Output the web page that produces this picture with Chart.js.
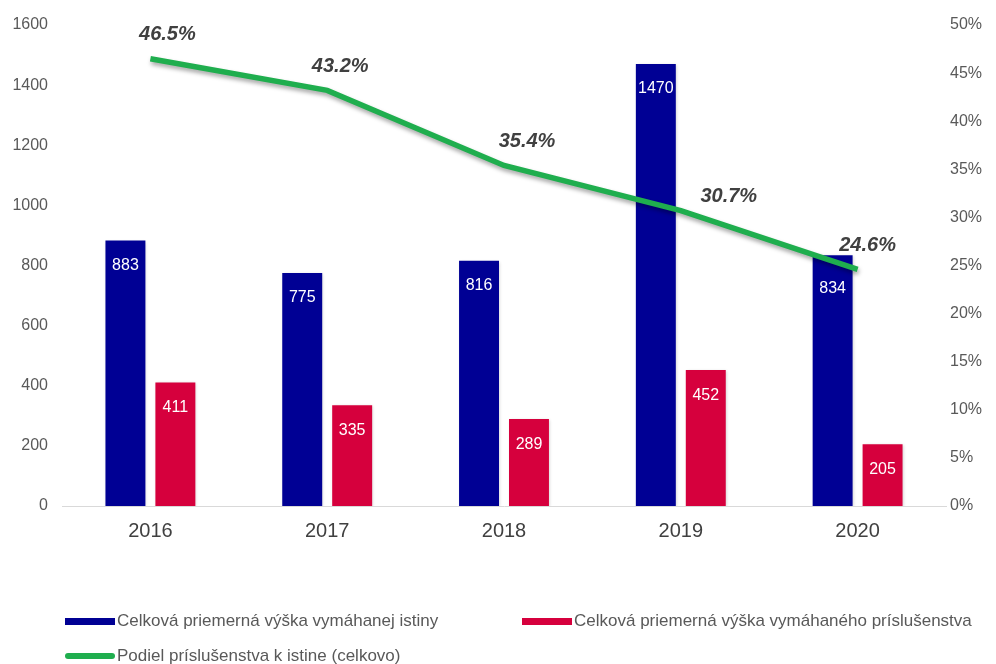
<!DOCTYPE html>
<html>
<head>
<meta charset="utf-8">
<script src="https://cdn.jsdelivr.net/npm/chart.js@4"></script>
<style>
  html, body { margin: 0; padding: 0; background: #fff; }
  #wrap { position: relative; width: 996px; height: 664px; }
  #legend { position: absolute; left: 65px; top: 611px; width: 930px; font-family: "Liberation Sans", Arial, sans-serif; font-size: 17px; color: #595959; }
  .item { position: absolute; display: flex; align-items: center; white-space: nowrap; }
  .sw { width: 50px; height: 7px; margin-right: 2px; }
  .ln { width: 50px; height: 6px; border-radius: 3px; margin-right: 2px; }
</style>
</head>
<body>
<div id="wrap">
  <canvas id="mainChart" width="996" height="664"></canvas>
  <div id="legend"></div>
</div>
<script>
const years = ['2016', '2017', '2018', '2019', '2020'];
const istina = [883, 775, 816, 1470, 834];
const prislusenstvo = [411, 335, 289, 452, 205];
const podiel = [46.5, 43.2, 35.4, 30.7, 24.6];
const leftTicks = [0, 200, 400, 600, 800, 1000, 1200, 1400, 1600];

const labelIstina = 'Celková priemerná výška vymáhanej istiny';
const labelPrisl = 'Celková priemerná výška vymáhaného príslušenstva';
const labelPodiel = 'Podiel príslušenstva k istine (celkovo)';

const blue = '#000094';
const red = '#d6003d';
const green = '#1fae4e';

// horizontal nudges of the percentage labels (px)
const lineLabelDx = [17, 13, 23, 48, 10];

// shadows + value labels
const labelsPlugin = {
    id: 'labels',
    beforeDatasetDraw(chart, args) {
        const ctx = chart.ctx;
        ctx.save();
        if (args.meta.type === 'line') {
            ctx.shadowColor = 'rgba(0,0,0,0.35)';
            ctx.shadowBlur = 4;
            ctx.shadowOffsetX = 1;
            ctx.shadowOffsetY = 3;
        } else {
            ctx.shadowColor = 'rgba(0,0,0,0.18)';
            ctx.shadowBlur = 3;
            ctx.shadowOffsetX = 1;
            ctx.shadowOffsetY = 1;
        }
    },
    afterDatasetDraw(chart) {
        chart.ctx.restore();
    },
    afterDatasetsDraw(chart) {
        const ctx = chart.ctx;
        ctx.save();
        ctx.textAlign = 'center';
        ctx.textBaseline = 'middle';
        // bar labels
        ctx.font = '16px "Liberation Sans", Arial, sans-serif';
        ctx.fillStyle = '#ffffff';
        [1, 2].forEach(i => {
            const meta = chart.getDatasetMeta(i);
            meta.data.forEach((bar, j) => {
                const off = (i === 1 && j === 4) ? 33 : 25; // keep 834 clear of the line
                ctx.fillText(chart.data.datasets[i].data[j], bar.x, bar.y + off);
            });
        });
        // line labels
        ctx.font = 'italic bold 20px "Liberation Sans", Arial, sans-serif';
        ctx.fillStyle = '#404040';
        const lm = chart.getDatasetMeta(0);
        lm.data.forEach((pt, j) => {
            const dy = j === 3 ? -14 : -24;
            ctx.fillText(podiel[j].toFixed(1) + '%', pt.x + lineLabelDx[j], pt.y + dy);
        });
        ctx.restore();
    }
};

new Chart(document.getElementById('mainChart').getContext('2d'), {
    data: {
        labels: years,
        datasets: [{
            type: 'line',
            label: labelPodiel,
            data: podiel,
            yAxisID: 'y1',
            borderColor: green,
            borderWidth: 5.5,
            pointRadius: 0,
            tension: 0,
            fill: false,
            order: 0
        }, {
            type: 'bar',
            label: labelIstina,
            data: istina,
            yAxisID: 'y',
            backgroundColor: blue,
            categoryPercentage: 0.565,
            barPercentage: 0.8,
            order: 1
        }, {
            type: 'bar',
            label: labelPrisl,
            data: prislusenstvo,
            yAxisID: 'y',
            backgroundColor: red,
            categoryPercentage: 0.565,
            barPercentage: 0.8,
            order: 2
        }]
    },
    options: {
        responsive: false,
        animation: false,
        layout: { padding: { top: 25, left: 0, right: 0, bottom: 0 } },
        plugins: {
            legend: { display: false },
            tooltip: { enabled: false }
        },
        scales: {
            x: {
                grid: { display: false, drawTicks: false },
                border: { color: '#d9d9d9', width: 1 },
                ticks: { color: '#404040', font: { size: 20, family: '"Liberation Sans", Arial, sans-serif' }, padding: 13 },
                afterFit(s) { s.height = 158; }
            },
            y: {
                position: 'left',
                min: 0,
                max: 1600,
                afterBuildTicks(s) { s.ticks = leftTicks.map(v => ({ value: v })); },
                grid: { display: false, drawTicks: false },
                border: { display: false },
                ticks: {
                    color: '#595959',
                    font: { size: 16, family: '"Liberation Sans", Arial, sans-serif' },
                    padding: 14,
                    callback: v => String(v)
                },
                afterFit(s) { s.width = 62; }
            },
            y1: {
                position: 'right',
                min: 0,
                max: 50,
                grid: { display: false, drawTicks: false },
                border: { display: false },
                ticks: {
                    stepSize: 5,
                    color: '#595959',
                    font: { size: 16, family: '"Liberation Sans", Arial, sans-serif' },
                    padding: 4,
                    callback: v => v + '%'
                },
                afterFit(s) { s.width = 50; }
            }
        }
    },
    plugins: [labelsPlugin]
});

// legend
const legend = document.getElementById('legend');
[
    { text: labelIstina, color: blue, kind: 'sw', x: 0, y: 0 },
    { text: labelPrisl, color: red, kind: 'sw', x: 457, y: 0 },
    { text: labelPodiel, color: green, kind: 'ln', x: 0, y: 35 }
].forEach(it => {
    const d = document.createElement('div');
    d.className = 'item';
    d.style.left = it.x + 'px';
    d.style.top = it.y + 'px';
    const s = document.createElement('span');
    s.className = it.kind;
    s.style.background = it.color;
    d.appendChild(s);
    d.appendChild(document.createTextNode(it.text));
    legend.appendChild(d);
});
</script>
</body>
</html>
